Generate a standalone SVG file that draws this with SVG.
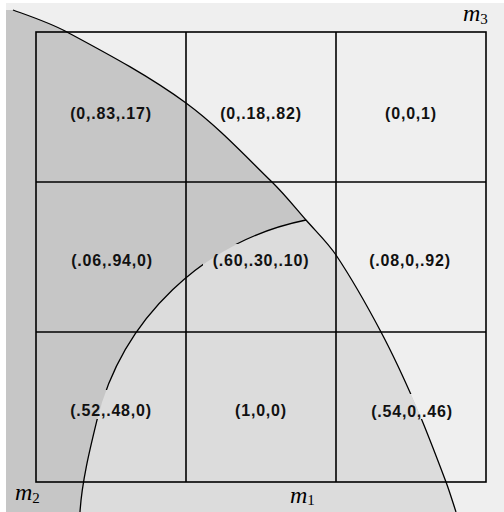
<svg xmlns="http://www.w3.org/2000/svg" width="504" height="512" viewBox="0 0 504 512">
  <style>
    .lbl { font-family: "Liberation Sans", Arial, sans-serif; font-weight: bold; font-size: 16px; letter-spacing: 0.8px; text-anchor: middle; fill: #111; }
    .math { font-family: "Liberation Serif", "Times New Roman", serif; font-style: italic; font-size: 24px; fill: #000; }
    .sub { font-style: normal; font-size: 15px; }
    .curve { fill: none; stroke: #000; stroke-width: 1.3; }
    .grid { fill: none; stroke: #000; stroke-width: 1.6; }
  </style>
  <defs>
    <mask id="gaps" maskUnits="userSpaceOnUse" x="0" y="0" width="504" height="512">
      <rect x="0" y="0" width="504" height="512" fill="#fff"/>
      <rect x="203" y="244" width="115" height="26" fill="#000"/>
      <rect x="60" y="390" width="100" height="29" fill="#000"/>
      <rect x="362" y="394" width="100" height="25" fill="#000"/>
    </mask>
  </defs>

  <g id="background">
    <rect x="6" y="3" width="498" height="509" fill="#efefef"/>
  </g>

  <g id="region-m2">
    <path fill="#c6c6c6" d="M6,10 L13,10 C31.2,16.6 49.9,22.8 67,32 C107.7,53.9 148.7,75.7 186,103 C217.4,126 244.1,154.8 272,182 C284.2,193.9 294.8,207.2 306,220 C316.1,231.6 327.4,242.2 336,255 C352.5,279.7 367.1,305.7 381,332 C393.8,356.1 405.1,380.9 416,406 C426.8,431 436.4,456.5 446,482 C449.7,491.8 452.7,502 456,512 L6,512 Z"/>
  </g>

  <g id="region-m1">
    <path fill="#dcdcdc" d="M80,512 C81.8,482 89.9,449.1 97,420 A271,271 0 0 1 306,220 C316.1,231.6 327.4,242.2 336,255 C352.5,279.7 367.1,305.7 381,332 C393.8,356.1 405.1,380.9 416,406 C426.8,431 436.4,456.5 446,482 C449.7,491.8 452.7,502 456,512 Z"/>
  </g>

  <g id="connectors" mask="url(#gaps)">
    <path id="curve-outer" class="curve" d="M13,10 C31.2,16.6 49.9,22.8 67,32 C107.7,53.9 148.7,75.7 186,103 C217.4,126 244.1,154.8 272,182 C284.2,193.9 294.8,207.2 306,220 C316.1,231.6 327.4,242.2 336,255 C352.5,279.7 367.1,305.7 381,332 C393.8,356.1 405.1,380.9 416,406 C426.8,431 436.4,456.5 446,482 C449.7,491.8 452.7,502 456,512"/>
    <path id="curve-inner" class="curve" d="M80,512 C81.8,482 89.9,449.1 97,420 A271,271 0 0 1 306,220"/>
  </g>

  <g id="grid">
    <rect class="grid" x="36" y="32" width="450" height="450"/>
    <line class="grid" x1="186" y1="32" x2="186" y2="482"/>
    <line class="grid" x1="336" y1="32" x2="336" y2="482"/>
    <line class="grid" x1="36" y1="182" x2="486" y2="182"/>
    <line class="grid" x1="36" y1="332" x2="486" y2="332"/>
  </g>

  <g id="cell-r1c1"><text class="lbl" x="111" y="119">(0,.83,.17)</text></g>
  <g id="cell-r1c2"><text class="lbl" x="261" y="119">(0,.18,.82)</text></g>
  <g id="cell-r1c3"><text class="lbl" x="411" y="119">(0,0,1)</text></g>
  <g id="cell-r2c1"><text class="lbl" x="112" y="266">(.06,.94,0)</text></g>
  <g id="cell-r2c2"><text class="lbl" x="261" y="266">(.60,.30,.10)</text></g>
  <g id="cell-r2c3"><text class="lbl" x="410" y="266">(.08,0,.92)</text></g>
  <g id="cell-r3c1"><text class="lbl" x="111" y="416">(.52,.48,0)</text></g>
  <g id="cell-r3c2"><text class="lbl" x="261" y="416">(1,0,0)</text></g>
  <g id="cell-r3c3"><text class="lbl" x="412" y="417">(.54,0,.46)</text></g>

  <g id="axis-labels">
    <text class="math" x="463" y="21">m<tspan class="sub" dy="3">3</tspan></text>
    <text class="math" x="15" y="500">m<tspan class="sub" dy="3">2</tspan></text>
    <text class="math" x="290" y="503">m<tspan class="sub" dy="2">1</tspan></text>
  </g>
</svg>
